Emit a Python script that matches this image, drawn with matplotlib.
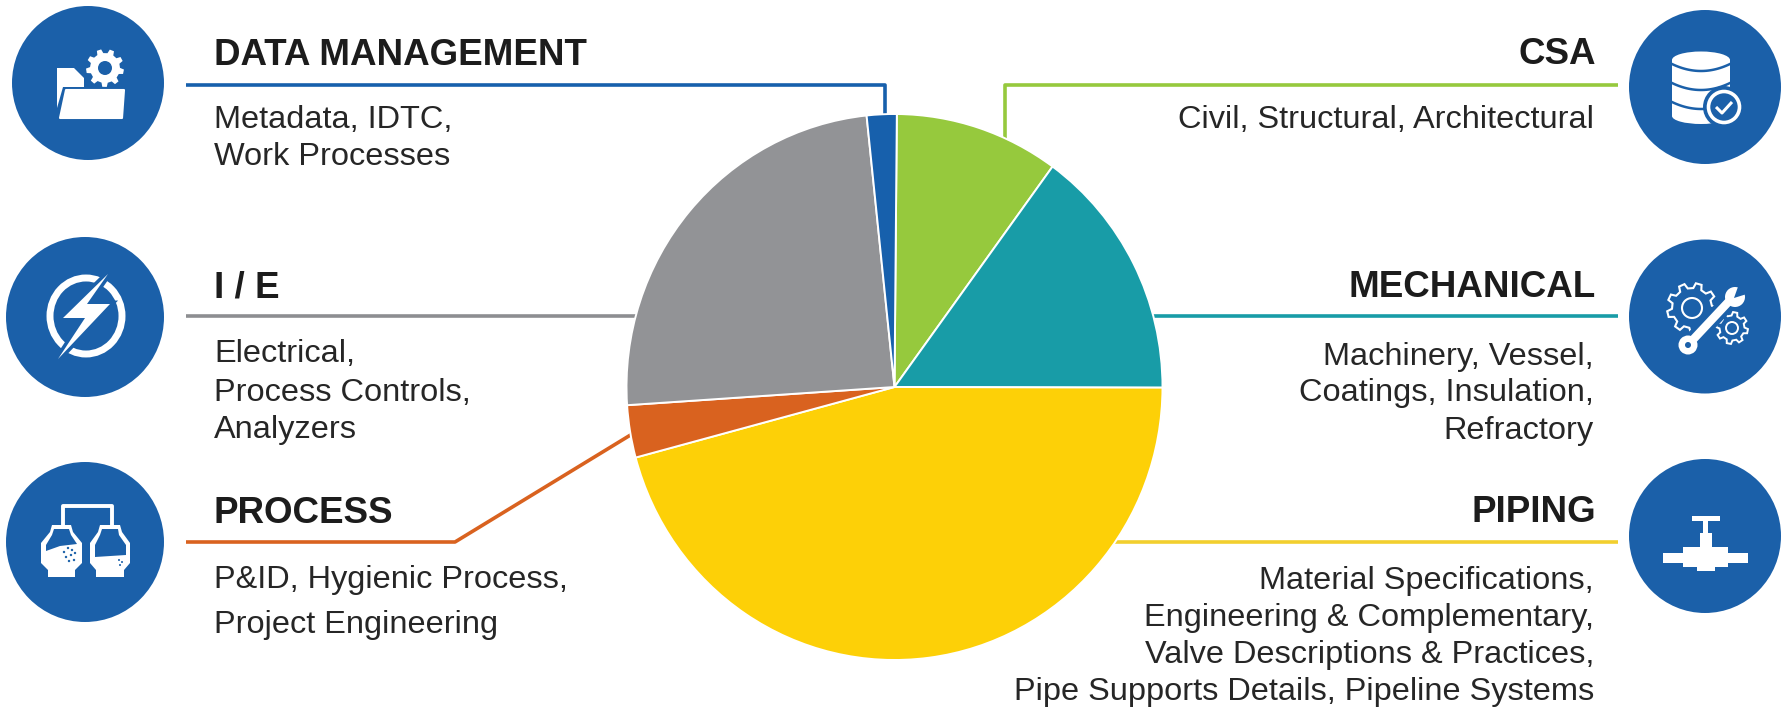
import matplotlib
matplotlib.use('Agg')
import matplotlib.pyplot as plt
from matplotlib.patches import Ellipse, Polygon, Rectangle
import numpy as np

W, H = 1787, 708

plt.rcParams['font.family'] = ['Liberation Sans', 'DejaVu Sans']

# clockwise from just right of 12 o'clock
disciplines = ['CSA', 'MECHANICAL', 'PIPING', 'PROCESS', 'I / E', 'DATA MANAGEMENT']
shares = [9.9, 15.0, 45.8, 3.1, 24.4, 1.8]
slice_colors = ['#96c93d', '#189ca7', '#fdd007', '#d9621f', '#929396', '#1760ac']

data_lines = ['Metadata, IDTC,', 'Work Processes']
ie_lines = ['Electrical,', 'Process Controls,', 'Analyzers']
process_lines = ['P&ID, Hygienic Process,', 'Project Engineering']
csa_lines = ['Civil, Structural, Architectural']
mech_lines = ['Machinery, Vessel,', 'Coatings, Insulation,', 'Refractory']
piping_lines = ['Material Specifications,', 'Engineering & Complementary,',
	'Valve Descriptions & Practices,', 'Pipe Supports Details, Pipeline Systems']

ICON = '#1b60a9'
INK = '#262626'
TEXT_L, TEXT_R = 214, 1594
PIE_X, PIE_Y, PIE_RX, PIE_RY = 894.5, 387, 268, 273

fig = plt.figure(figsize=(W / 100, H / 100), dpi=100, facecolor='white')
ax = fig.add_axes([0, 0, 1, 1])
ax.set_xlim(0, W)
ax.set_ylim(H, 0)
ax.axis('off')


def line(pts, color, lw=2.6, z=2, **kw):
	xs, ys = zip(*pts)
	ax.plot(xs, ys, color=color, lw=lw, zorder=z, solid_capstyle='butt', **kw)


def poly(pts, color='white', z=4, **kw):
	ax.add_patch(Polygon(pts, closed=True, fc=color, ec=kw.pop('ec', 'none'), zorder=z, **kw))


def disc(x, y, r, color='white', z=4):
	ax.add_patch(Ellipse((x, y), 2 * r, 2 * r, fc=color, ec='none', zorder=z))


def ring(x, y, r, lw=1.6, color='white', z=4):
	ax.add_patch(Ellipse((x, y), 2 * r, 2 * r, fc='none', ec=color, lw=lw, zorder=z))


def gear_pts(x, y, r_out, r_in, n, rot=0):
	pts = []
	for i in range(n):
		a = rot + 2 * np.pi * i / n
		step = 2 * np.pi / n
		for da, r in [(-.30, r_in), (-.17, r_out), (.17, r_out), (.30, r_in)]:
			pts.append((x + r * np.cos(a + da * step), y + r * np.sin(a + da * step)))
	return pts


def block(x0, x1, y0, y1, color='white', z=4):
	ax.add_patch(Rectangle((x0, y0), x1 - x0, y1 - y0, fc=color, ec='none', zorder=z))


def badge(x, y, rx=77, ry=78):
	ax.add_patch(Ellipse((x, y), 2 * rx, 2 * ry, fc=ICON, ec='none', zorder=3))


# heading and description blocks, one baseline per line
def label(x, ha, title, title_y, lines, line_ys):
	title_x = x + 2 if ha == 'right' else x
	ax.text(title_x, title_y, title, ha=ha, va='baseline', fontsize=26.5, fontweight='bold', color='#1c1c1c', zorder=5)
	for s, y in zip(lines, line_ys):
		ax.text(x, y, s, ha=ha, va='baseline', fontsize=23.4, color=INK, zorder=5)


label(TEXT_L, 'left', disciplines[5], 65, data_lines, [128, 165])
label(TEXT_L, 'left', disciplines[4], 297, ie_lines, [362, 401, 438])
label(TEXT_L, 'left', disciplines[3], 523, process_lines, [588, 633])
label(TEXT_R, 'right', disciplines[0], 64, csa_lines, [128])
label(TEXT_R, 'right', disciplines[1], 297, mech_lines, [365, 401, 439])
label(TEXT_R, 'right', disciplines[2], 522, piping_lines, [589, 626, 663, 700])

# leader lines run underneath the pie
line([(186, 85), (885, 85), (885, 130)], slice_colors[5])
line([(1618, 85), (1005, 85), (1005, 150)], slice_colors[0])
line([(186, 316), (660, 316)], '#8d8e91')
line([(1618, 316), (1120, 316)], slice_colors[1])
line([(186, 542), (455, 542), (660, 417)], slice_colors[3])
line([(1618, 542), (1090, 542)], '#f2cf2e')

# folder with gear
badge(88, 83, 76, 77)
poly([(57, 68), (74, 68), (84, 78), (84, 87), (63, 87), (57, 108)])
poly([(66, 90), (124, 90), (122, 118), (60, 118)], ec='white', lw=1.5, joinstyle='round')
poly(gear_pts(105, 68, 19, 15, 9, .2))
disc(105, 68, 7, ICON, 5)

# power ring and bolt
badge(85, 317, 79, 80)
ax.add_patch(Ellipse((86, 316), 72, 76, fc='none', ec='white', lw=5, zorder=4))
bolt = [(108, 274), (63, 318), (85, 318), (58, 359), (110, 304), (87, 304)]
poly(bolt, ICON, 4.5, ec=ICON, lw=5)
poly(bolt, 'white', 5)

# two vessels on a common line
badge(85, 542, 79, 80)
line([(63, 525), (63, 506), (112, 506), (112, 525)], 'white', lw=2.8, z=4)
poly([(52, 525), (71, 525), (73, 532), (82, 543), (82, 563), (75, 570), (75, 577),
	(48, 577), (48, 570), (41, 563), (41, 543), (50, 532)])
poly([(100, 525), (120, 525), (122, 532), (130, 543), (130, 563), (124, 570), (124, 577),
	(96, 577), (96, 570), (90, 563), (90, 543), (98, 532)])
poly([(54, 529), (69, 529), (71, 535), (77, 544), (60, 546), (46, 551), (46, 545), (52, 535)], ICON, 5)
poly([(102, 529), (118, 529), (119, 535), (126, 545), (126, 555), (95, 557), (95, 545), (100, 535)], ICON, 5)
for dx, dy in [(64, 552), (68, 548), (72, 550), (66, 557), (71, 555), (75, 553), (69, 561), (74, 560)]:
	disc(dx, dy, 1.2, ICON, 6)
for dx, dy in [(119, 560), (122, 562), (120, 565)]:
	disc(dx, dy, 1, ICON, 6)

# database with check mark
badge(1705, 87, 76, 77)
block(1672, 1730, 60, 116)
ax.add_patch(Ellipse((1701, 60), 58, 17, fc='white', ec='none', zorder=4))
ax.add_patch(Ellipse((1701, 116), 58, 16, fc='white', ec='none', zorder=4))
t = np.linspace(-1, 1, 30)
for y0 in [64, 83, 102]:
	ax.plot(1701 + 29 * t, y0 + 7 * (1 - t ** 2), color=ICON, lw=1.8, zorder=5)
disc(1724, 107, 21, ICON, 5)
ring(1724, 107, 15.5, 2.6, z=6)
line([(1716, 107), (1722, 113), (1732, 102)], 'white', lw=2.2, z=6)

# gears and spanner
badge(1705, 316.5, 76, 77)
poly(gear_pts(1692, 308, 25, 20, 9, .1), 'none', ec='white', lw=1.5)
ring(1692, 308, 10, 1.5)
poly(gear_pts(1732, 328, 16, 12.5, 8, .2), 'none', ec='white', lw=1.4)
ring(1732, 328, 6, 1.4)
line([(1688, 345), (1733, 297)], ICON, lw=12, z=4.5)
disc(1688, 345, 12, ICON, 4.5)
disc(1735, 297, 14, ICON, 4.5)
line([(1688, 345), (1733, 297)], 'white', lw=6, z=5)
disc(1688, 345, 9.5, 'white', 5)
disc(1688, 345, 3, ICON, 6)
disc(1735, 297, 10, 'white', 5)
poly([(1734, 298), (1739, 284), (1750, 293)], ICON, 6)

# valve
badge(1705, 536, 76, 77)
block(1692, 1720, 516, 521)
block(1703, 1708, 520, 534)
block(1700, 1712, 533, 548)
block(1683, 1728, 547, 567)
block(1663, 1748, 553, 563)
block(1697, 1715, 567, 571)

# pie sits in its own axes so the two radii can differ slightly
pad = 1.02
pie_ax = fig.add_axes([(PIE_X - PIE_RX * pad) / W, 1 - (PIE_Y + PIE_RY * pad) / H,
	2 * PIE_RX * pad / W, 2 * PIE_RY * pad / H], zorder=2)
pie_ax.pie(shares, colors=slice_colors, startangle=89.5, counterclock=False, radius=1,
	wedgeprops={'edgecolor': 'white', 'linewidth': 1.4})
pie_ax.set_aspect('auto')
pie_ax.set_xlim(-pad, pad)
pie_ax.set_ylim(-pad, pad)

fig.savefig('out.png', dpi=100)
